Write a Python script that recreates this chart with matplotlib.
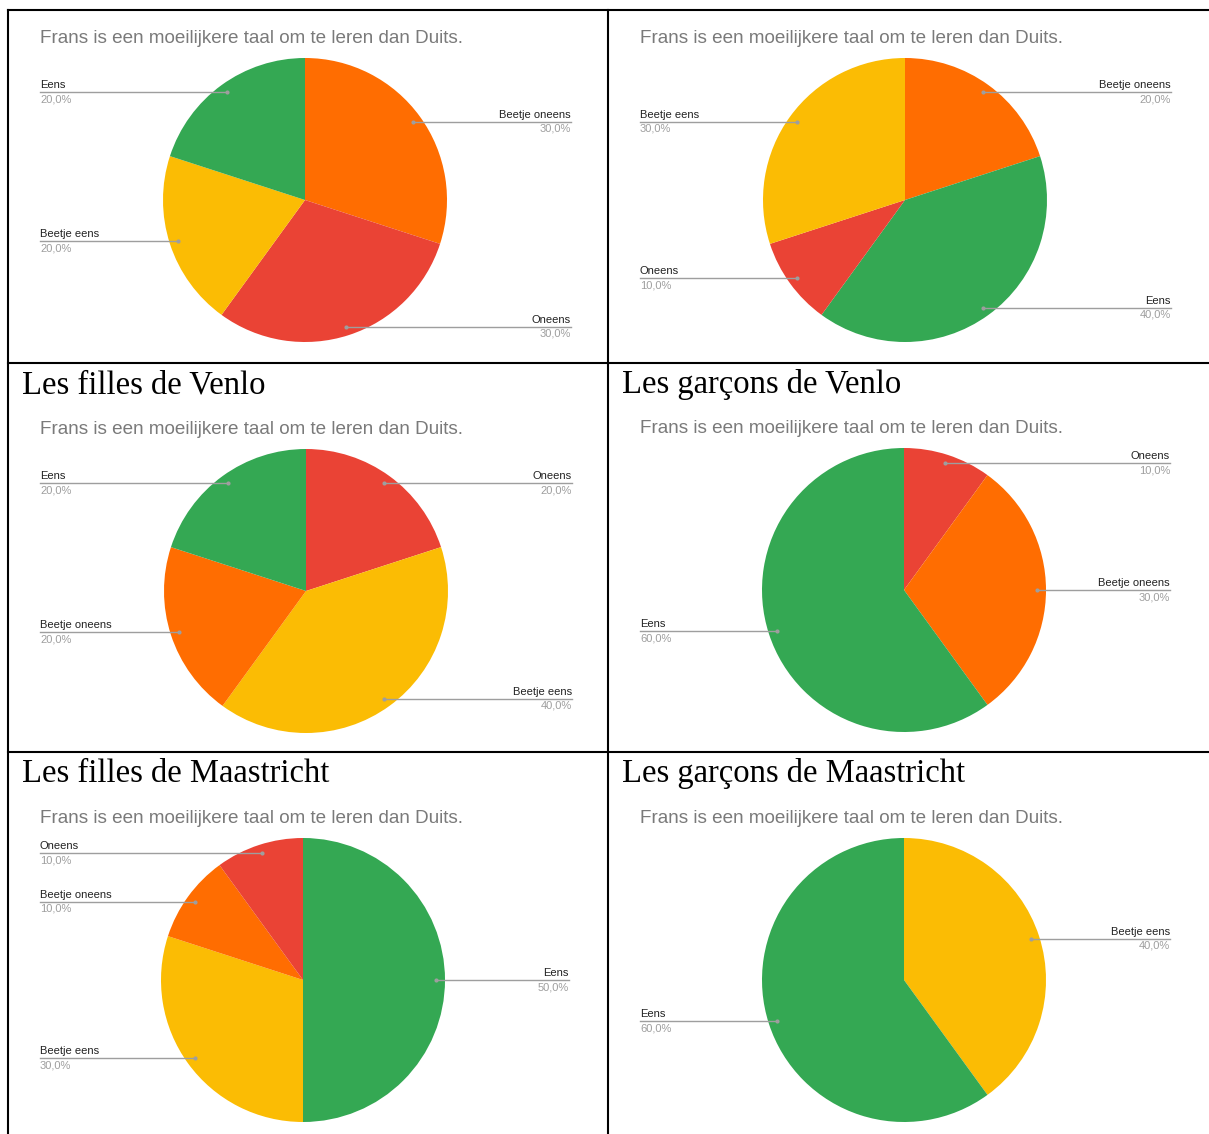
import numpy as np
import matplotlib.pyplot as plt

W, H = 1209, 1134

question = 'Frans is een moeilijkere taal om te leren dan Duits.'
headers = ['', '', 'Les filles de Venlo', 'Les garçons de Venlo',
           'Les filles de Maastricht', 'Les garçons de Maastricht']

colors = {'Eens': '#34a853', 'Beetje eens': '#fbbc04',
          'Beetje oneens': '#ff6d01', 'Oneens': '#ea4335'}

# slices listed clockwise from 12 o'clock, values in percent
labels_1 = ['Beetje oneens', 'Oneens', 'Beetje eens', 'Eens']
values_1 = [30, 30, 20, 20]
labels_2 = ['Beetje oneens', 'Eens', 'Oneens', 'Beetje eens']
values_2 = [20, 40, 10, 30]
labels_3 = ['Oneens', 'Beetje eens', 'Beetje oneens', 'Eens']
values_3 = [20, 40, 20, 20]
labels_4 = ['Oneens', 'Beetje oneens', 'Eens']
values_4 = [10, 30, 60]
labels_5 = ['Eens', 'Beetje eens', 'Beetje oneens', 'Oneens']
values_5 = [50, 30, 10, 10]
labels_6 = ['Beetje eens', 'Eens']
values_6 = [40, 60]

charts = [(labels_1, values_1), (labels_2, values_2), (labels_3, values_3),
          (labels_4, values_4), (labels_5, values_5), (labels_6, values_6)]

# layout (pixels)
centers = [(305, 200), (905, 200), (306, 591), (904, 590), (303, 980), (904, 980)]
R = 142
row_tops = [10, 363, 752]
col_lefts = [8, 608]

plt.rcParams['font.family'] = ['Liberation Sans', 'DejaVu Sans']

fig = plt.figure(figsize=(W / 100, H / 100), dpi=100)
ax = fig.add_axes([0, 0, 1, 1])

for i, ((labs, vals), (cx, cy)) in enumerate(zip(charts, centers)):
    row, col = divmod(i, 2)
    left_edge = col_lefts[col] + 32
    cols = [colors[l] for l in labs]
    # y axis is inverted, so counterclock in data = clockwise on screen
    ax.pie(vals, colors=cols, center=(cx, cy), radius=R, startangle=-90,
           counterclock=True, wedgeprops=dict(linewidth=0))

    total = sum(vals)
    cum = np.cumsum(vals)
    for lab, v, c in zip(labs, vals, cum):
        phi = 2 * np.pi * (c - v / 2) / total
        dx = 0.94 * R * np.sin(phi)
        dy = -0.94 * R * np.cos(phi)
        px, py = cx + dx, cy + dy
        if dx < 0:
            edge, ha = left_edge, 'left'
        else:
            edge, ha = cx + 266, 'right'
        ax.plot([px, edge], [py, py], color='#9e9e9e', lw=1, zorder=3)
        ax.plot(px, py, 'o', ms=3, color='#9e9e9e', mec='none', zorder=4)
        ax.text(edge, py - 2, lab, ha=ha, va='bottom', fontsize=8, color='#222222')
        ax.text(edge, py + 2, f'{v:.1f}%'.replace('.', ','), ha=ha, va='top',
                fontsize=8, color='#9e9e9e')

    ax.text(left_edge, cy - 157, question, ha='left', va='baseline',
            fontsize=13.6, color='#7a7a7a')

    if headers[i]:
        ax.text(col_lefts[col] + 14, row_tops[row] + 30, headers[i], ha='left',
                va='baseline', fontsize=23.5, color='black',
                family=['Liberation Serif', 'DejaVu Serif'])

# table borders
lw = 1.5
ax.plot([8, W], [10, 10], color='black', lw=lw)
ax.plot([8, W], [363, 363], color='black', lw=lw)
ax.plot([8, W], [752, 752], color='black', lw=lw)
ax.plot([8, 8], [10, H], color='black', lw=lw)
ax.plot([608, 608], [10, H], color='black', lw=lw)

ax.set_xlim(0, W)
ax.set_ylim(H, 0)
ax.set_aspect('auto')
ax.axis('off')

fig.savefig('out.png', dpi=100, facecolor='white')
